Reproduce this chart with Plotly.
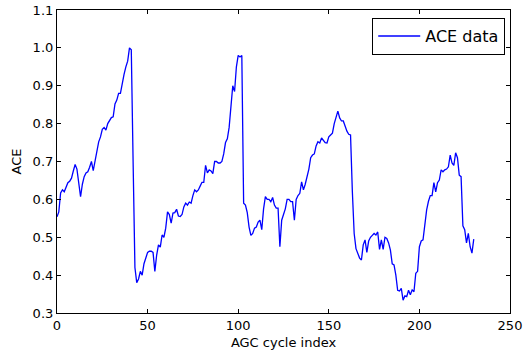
import plotly.graph_objects as go

ace = [
    0.554, 0.567, 0.617, 0.625, 0.620, 0.635, 0.644, 0.648, 0.656, 0.675,
    0.692, 0.680, 0.640, 0.607, 0.640, 0.660, 0.670, 0.673, 0.685, 0.700,
    0.676, 0.700, 0.730, 0.752, 0.765, 0.785, 0.790, 0.783, 0.800, 0.810,
    0.816, 0.818, 0.852, 0.862, 0.880, 0.880, 0.910, 0.930, 0.950, 0.965,
    1.000, 0.995, 0.700, 0.420, 0.380, 0.390, 0.410, 0.400, 0.430, 0.445,
    0.460, 0.463, 0.463, 0.460, 0.410, 0.453, 0.480, 0.474, 0.506, 0.500,
    0.524, 0.567, 0.560, 0.537, 0.564, 0.565, 0.574, 0.556, 0.555, 0.560,
    0.580, 0.590, 0.585, 0.593, 0.590, 0.610, 0.625, 0.620, 0.625, 0.635,
    0.645, 0.645, 0.690, 0.670, 0.678, 0.675, 0.668, 0.700, 0.700, 0.696,
    0.696, 0.700, 0.720, 0.750, 0.760, 0.790, 0.850, 0.900, 0.885, 0.950,
    0.980, 0.976, 0.980, 0.590, 0.585, 0.565, 0.527, 0.505, 0.510, 0.524,
    0.527, 0.540, 0.545, 0.520, 0.575, 0.607, 0.600, 0.600, 0.594, 0.605,
    0.585, 0.577, 0.577, 0.475, 0.545, 0.560, 0.575, 0.600, 0.600, 0.594,
    0.594, 0.545, 0.600, 0.610, 0.616, 0.646, 0.625, 0.640, 0.660, 0.680,
    0.710, 0.717, 0.720, 0.741, 0.752, 0.749, 0.762, 0.757, 0.750, 0.749,
    0.765, 0.770, 0.775, 0.800, 0.815, 0.833, 0.815, 0.807, 0.807, 0.790,
    0.780, 0.772, 0.770, 0.620, 0.510, 0.470, 0.455, 0.445, 0.440, 0.480,
    0.493, 0.460, 0.490, 0.500, 0.505, 0.510, 0.506, 0.514, 0.468, 0.493,
    0.468, 0.500, 0.497, 0.485, 0.466, 0.430, 0.427, 0.400, 0.360, 0.358,
    0.365, 0.334, 0.345, 0.343, 0.360, 0.348, 0.361, 0.356, 0.405, 0.410,
    0.475, 0.490, 0.493, 0.537, 0.572, 0.595, 0.610, 0.610, 0.644, 0.620,
    0.644, 0.651, 0.678, 0.673, 0.678, 0.680, 0.686, 0.717, 0.696, 0.690,
    0.723, 0.710, 0.664, 0.660, 0.530, 0.520, 0.485, 0.510, 0.475, 0.458,
    0.495,
]
cycle = list(range(len(ace)))

x_ticks = [0, 50, 100, 150, 200, 250]
y_ticks = [0.3, 0.4, 0.5, 0.6, 0.7, 0.8, 0.9, 1.0, 1.1]
y_labels = ["0.3", "0.4", "0.5", "0.6", "0.7", "0.8", "0.9", "1.0", "1.1"]

fig = go.Figure()
fig.add_trace(go.Scatter(
    x=cycle, y=ace, mode="lines", name="ACE data",
    line=dict(color="#0000ff", width=1.3),
))

axis_common = dict(
    showline=True, linecolor="black", linewidth=1.2, mirror="allticks",
    ticks="inside", ticklen=4, tickwidth=1, tickcolor="black",
    showgrid=False, zeroline=False, automargin=False,
    tickfont=dict(family="DejaVu Sans", size=13, color="black"),
)

fig.update_layout(
    width=525, height=358, autosize=False,
    margin=dict(l=57, r=15, t=10, b=45, pad=0, autoexpand=False),
    paper_bgcolor="white", plot_bgcolor="white",
    font=dict(family="DejaVu Sans", size=13, color="black"),
    xaxis=dict(range=[0, 250], tickvals=x_ticks,
               title=dict(text="AGC cycle index", standoff=6,
                          font=dict(family="DejaVu Sans", size=13)),
               **axis_common),
    yaxis=dict(range=[0.3, 1.1], tickvals=y_ticks, ticktext=y_labels,
               title=dict(text="ACE", standoff=8,
                          font=dict(family="DejaVu Sans", size=13)),
               **axis_common),
    showlegend=True,
    legend=dict(x=0.989, y=0.974, xanchor="right", yanchor="top",
                bordercolor="black", borderwidth=1.2, bgcolor="white",
                itemwidth=42,
                font=dict(family="DejaVu Sans", size=16, color="black")),
)

fig.write_html("out.html")
